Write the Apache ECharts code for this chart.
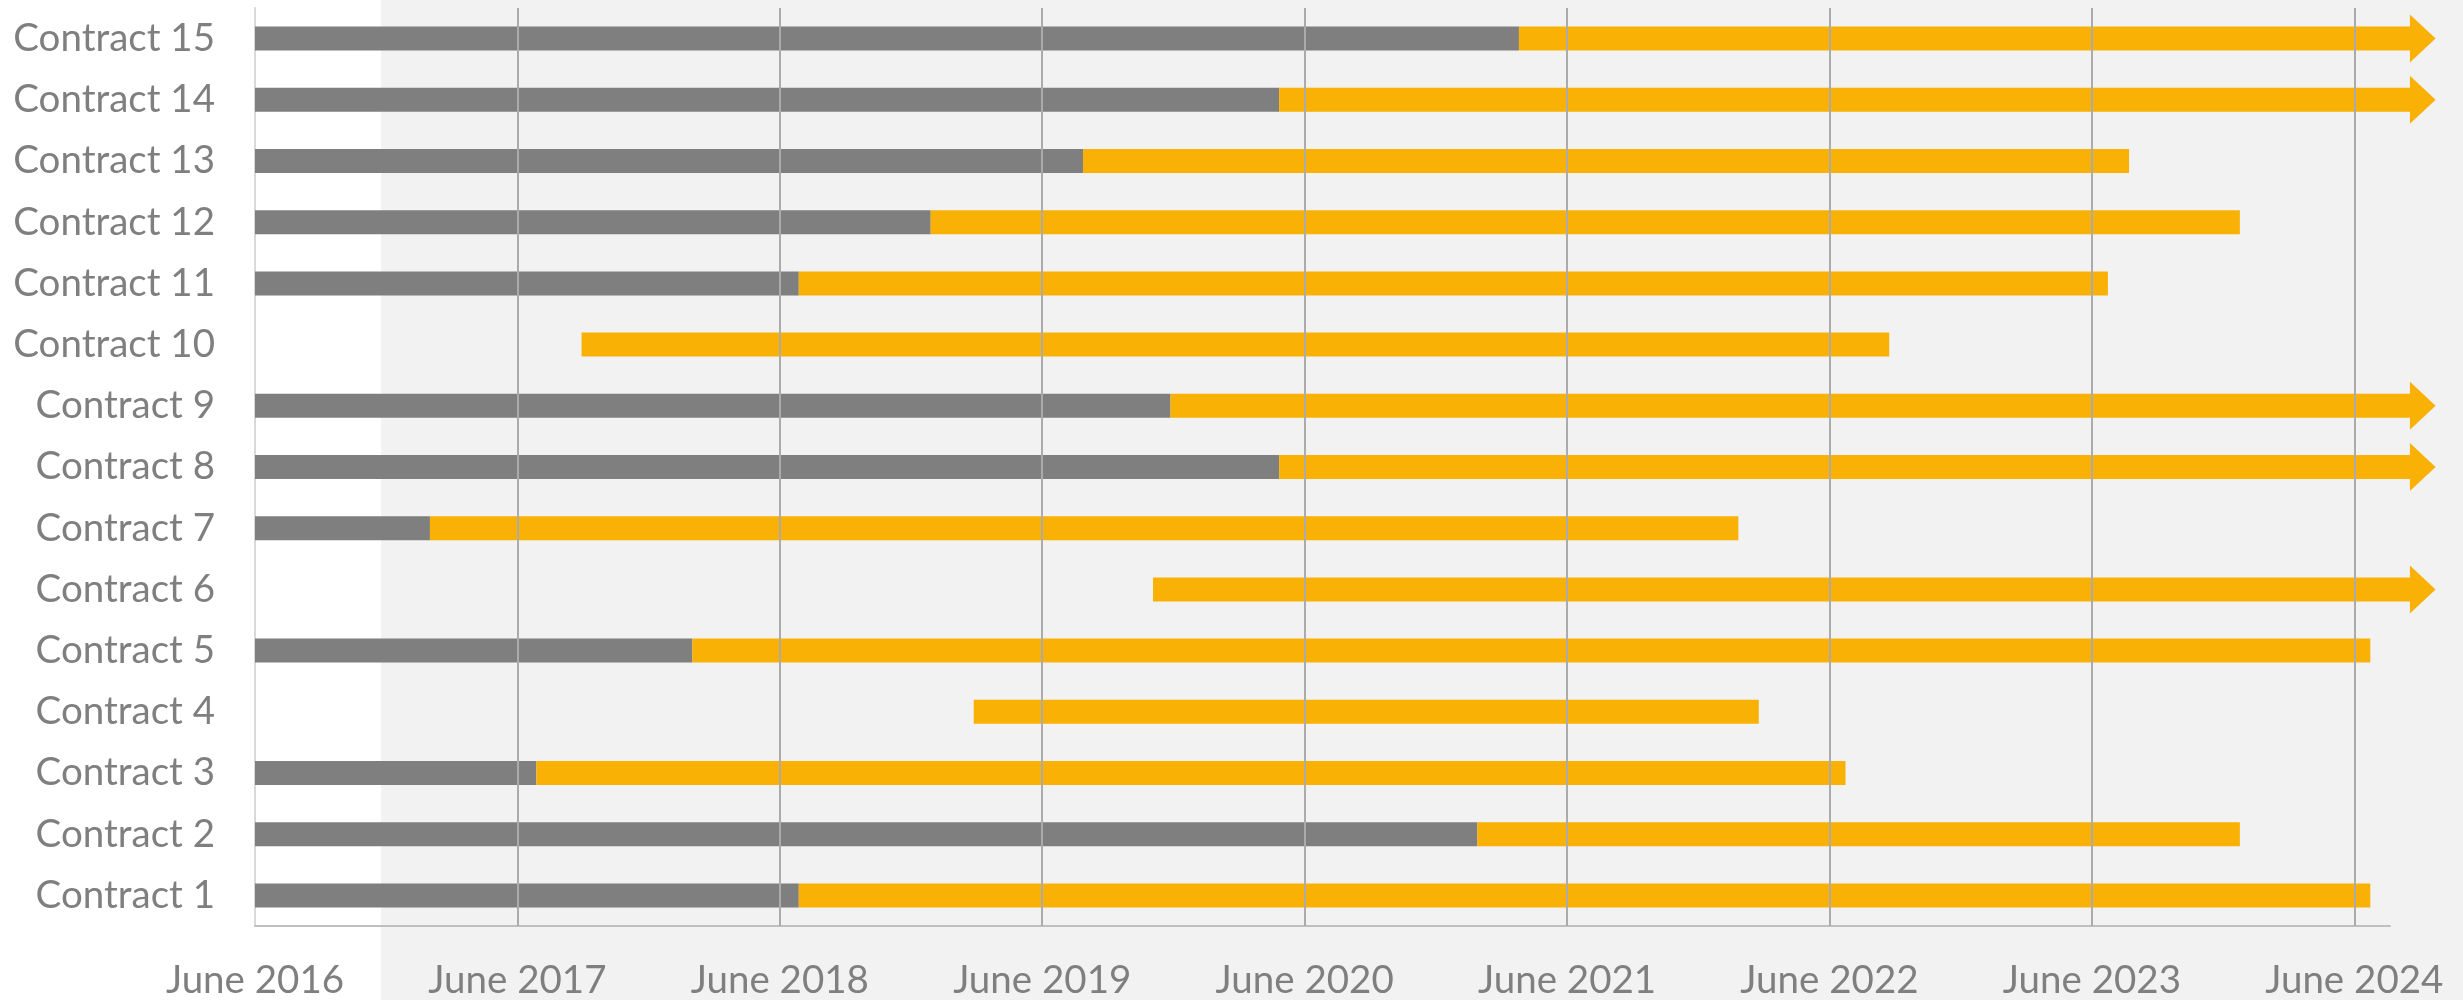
<!DOCTYPE html>
<html>
<head>
<meta charset="utf-8">
<script src="https://cdn.jsdelivr.net/npm/echarts@6.0.0/dist/echarts.min.js"></script>
<style>
  html, body { margin: 0; padding: 0; background: #ffffff; }
  #chart { width: 2463px; height: 1000px; }
</style>
</head>
<body>
<div id="chart"></div>
<script>
// ---------------- data ----------------
const categories = ['Contract 1', 'Contract 2', 'Contract 3', 'Contract 4', 'Contract 5',
  'Contract 6', 'Contract 7', 'Contract 8', 'Contract 9', 'Contract 10',
  'Contract 11', 'Contract 12', 'Contract 13', 'Contract 14', 'Contract 15'];

// grey phase: from project start to greyEnd (null = no grey phase)
const projectStart = '2016-06-01';
const greyEnd = ['2018-06-27', '2021-01-28', '2017-06-27', null, '2018-02-01',
  null, '2017-02-01', '2020-04-26', '2019-11-27', null,
  '2018-06-27', '2018-12-28', '2019-07-27', '2020-04-26', '2021-03-25'];

// yellow phase
const yellowStart = ['2018-06-27', '2021-01-28', '2017-06-27', '2019-02-27', '2018-02-01',
  '2019-11-03', '2017-02-01', '2020-04-26', '2019-11-27', '2017-08-29',
  '2018-06-27', '2018-12-28', '2019-07-27', '2020-04-26', '2021-03-25'];
// null = ongoing (drawn as arrow)
const yellowEnd = ['2024-06-23', '2023-12-24', '2022-06-23', '2022-02-24', '2024-06-23',
  null, '2022-01-26', null, null, '2022-08-23',
  '2023-06-23', '2023-12-24', '2023-07-22', null, null];
const ongoingEnd = '2024-08-18';

const tickLabels = ['June 2016', 'June 2017', 'June 2018', 'June 2019', 'June 2020',
  'June 2021', 'June 2022', 'June 2023', 'June 2024'];
const axisEnd = '2024-07-20';
const shadedFrom = '2016-11-24';

// ---------------- helpers ----------------
function toMonths(d) {
  const p = d.split('-').map(Number);
  return (p[0] - 2016) * 12 + (p[1] - 6) + (p[2] - 1) / 30;
}
const GREY = '#7f7f7f';
const YELLOW = '#f8b104';
const TEXT = '#7f7f7f';

const startM = toMonths(projectStart);
const greyEndM = greyEnd.map(d => d == null ? null : toMonths(d));
const seriesData = categories.map((c, i) => [
  i,
  toMonths(yellowStart[i]),
  toMonths(yellowEnd[i] == null ? ongoingEnd : yellowEnd[i]),
  yellowEnd[i] == null ? 1 : 0
]);
const gridValues = tickLabels.map((t, i) => i * 12).filter(v => v > 0);

const chart = echarts.init(document.getElementById('chart'), null, { renderer: 'canvas' });

const option = {
  animation: false,
  backgroundColor: '#ffffff',
  grid: { left: 255, right: 73, top: 8, bottom: 74, containLabel: false, outerBoundsMode: 'none' },
  xAxis: {
    type: 'value',
    min: 0,
    max: toMonths(axisEnd),
    interval: 12,
    axisLine: { show: true, lineStyle: { color: '#bfbfbf', width: 2 } },
    axisTick: { show: false },
    splitLine: { show: false },
    axisLabel: {
      margin: 35,
      fontFamily: 'Lato',
      fontSize: 38.5,
      color: TEXT,
      showMaxLabel: false,
      formatter: v => (Math.abs(v % 12) < 1e-6) ? (tickLabels[Math.round(v / 12)] || '') : ''
    }
  },
  yAxis: {
    type: 'category',
    data: categories,
    axisLine: { show: true, lineStyle: { color: '#d9d9d9', width: 2 } },
    axisTick: { show: false },
    splitLine: { show: false },
    axisLabel: { margin: 40, fontFamily: 'Lato', fontSize: 38.5, color: TEXT }
  },
  series: [
    {
      type: 'line',
      data: [],
      z: 1,
      silent: true,
      markLine: {
        silent: true,
        animation: false,
        symbol: ['none', 'none'],
        label: { show: false },
        lineStyle: { type: 'solid', color: '#ababab', width: 2 },
        data: gridValues.map(v => ({ xAxis: v }))
      }
    },
    {
      type: 'custom',
      z: 3,
      clip: false,
      encode: { x: [1, 2], y: 0 },
      data: seriesData,
      renderItem: function (params, api) {
        const i = params.dataIndex;
        const cat = api.value(0);
        const h = api.size([0, 1])[1] * 0.392;
        const children = [];
        if (greyEndM[i] != null) {
          const a = api.coord([startM, cat]);
          const b = api.coord([greyEndM[i], cat]);
          children.push({
            type: 'rect',
            shape: { x: a[0], y: a[1] - h / 2, width: b[0] - a[0], height: h },
            style: { fill: GREY }
          });
        }
        const s = api.coord([api.value(1), cat]);
        const e = api.coord([api.value(2), cat]);
        children.push({
          type: 'rect',
          shape: { x: s[0], y: s[1] - h / 2, width: e[0] - s[0], height: h },
          style: { fill: YELLOW }
        });
        if (api.value(3)) {
          children.push({
            type: 'polygon',
            shape: { points: [[e[0] - 0.5, e[1] - h], [e[0] + h * 1.05, e[1]], [e[0] - 0.5, e[1] + h]] },
            style: { fill: YELLOW }
          });
        }
        return { type: 'group', children: children };
      }
    }
  ]
};

chart.setOption(option);

// shaded background (starts at a date, extends to the right edge)
const sx = chart.convertToPixel({ xAxisIndex: 0 }, toMonths(shadedFrom));
chart.setOption({
  graphic: [{
    type: 'rect',
    z: -10,
    silent: true,
    shape: { x: sx, y: 0, width: chart.getWidth() - sx, height: chart.getHeight() },
    style: { fill: '#f2f2f2' }
  }]
});
</script>
</body>
</html>
